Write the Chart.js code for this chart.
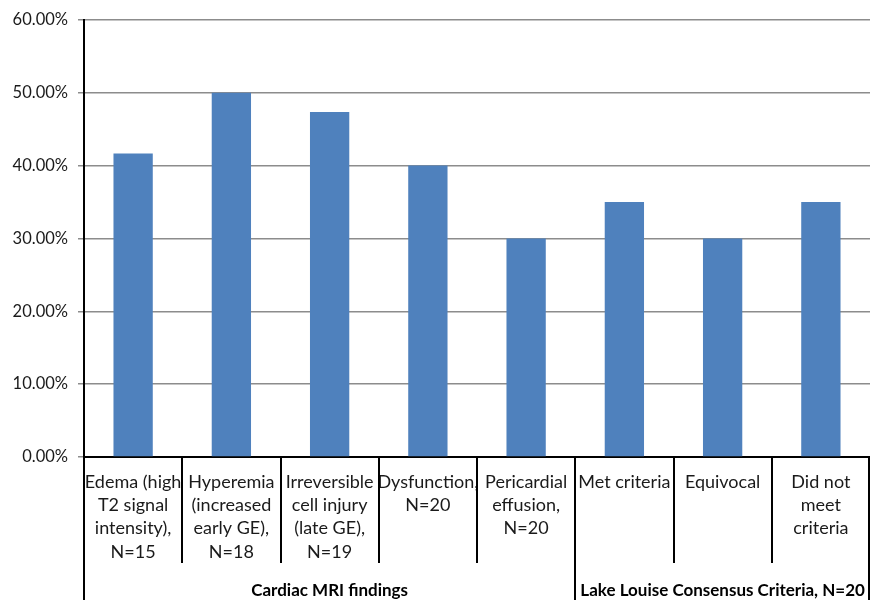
<!DOCTYPE html>
<html>
<head>
<meta charset="utf-8">
<script src="https://cdn.jsdelivr.net/npm/chart.js@4.4.1/dist/chart.umd.min.js"></script>
<style>
  html, body { margin: 0; padding: 0; background: #ffffff; }
  #wrap { width: 870px; height: 605px; }
</style>
</head>
<body>
<div id="wrap"><canvas id="chart" width="870" height="605"></canvas></div>
<script>
// Category labels (one array entry per text line)
const categories = [
  ['Edema (high', 'T2 signal', 'intensity),', 'N=15'],
  ['Hyperemia', '(increased', 'early GE),', 'N=18'],
  ['Irreversible', 'cell injury', '(late GE),', 'N=19'],
  ['Dysfunction,', 'N=20'],
  ['Pericardial', 'effusion,', 'N=20'],
  ['Met criteria'],
  ['Equivocal'],
  ['Did not', 'meet', 'criteria']
];

// Share of patients, in percent
const percentValues = [41.67, 50.0, 47.37, 40.0, 30.0, 35.0, 30.0, 35.0];

// Group headings under the category labels, and how many categories each spans
const groupLabels = ['Cardiac MRI findings', 'Lake Louise Consensus Criteria, N=20'];
const groupSizes = [5, 3];

// Y axis ticks
const yMin = 0;
const yMax = 60;
const yStep = 10;

const FONT = 'Lato, "Open Sans", "Liberation Sans", sans-serif';

// Draws the category separators, group separators and group headings
const groupAxisPlugin = {
  id: 'groupAxis',
  afterDraw(chart) {
    const ctx = chart.ctx;
    const xs = chart.scales.x;
    const area = chart.chartArea;
    const n = categories.length;
    const boundary = (i) => {
      if (i <= 0) return xs.left;
      if (i >= n) return xs.right;
      return (xs.getPixelForValue(i - 1) + xs.getPixelForValue(i)) / 2;
    };
    const groupEdges = [0];
    groupSizes.forEach(s => groupEdges.push(groupEdges[groupEdges.length - 1] + s));

    ctx.save();
    ctx.strokeStyle = '#000000';
    ctx.lineWidth = 2;
    for (let i = 0; i <= n; i++) {
      const x = Math.round(boundary(i)) - (i === n ? 1 : 0);
      const isGroupEdge = groupEdges.includes(i);
      ctx.beginPath();
      ctx.moveTo(x, area.bottom);
      ctx.lineTo(x, isGroupEdge ? area.bottom + 143 : area.bottom + 106);
      ctx.stroke();
    }

    ctx.fillStyle = '#000000';
    ctx.font = 'bold 17px ' + FONT;
    ctx.textAlign = 'center';
    ctx.textBaseline = 'middle';
    for (let g = 0; g < groupLabels.length; g++) {
      const x0 = boundary(groupEdges[g]);
      const x1 = boundary(groupEdges[g + 1]);
      ctx.fillText(groupLabels[g], (x0 + x1) / 2, area.bottom + 134);
    }
    ctx.restore();
  }
};

new Chart(document.getElementById('chart'), {
  type: 'bar',
  data: {
    labels: categories,
    datasets: [{
      data: percentValues,
      backgroundColor: '#4f81bd',
      borderWidth: 0,
      barPercentage: 0.4,
      categoryPercentage: 1.0
    }]
  },
  options: {
    responsive: false,
    animation: false,
    devicePixelRatio: 1,
    layout: { padding: { top: 16, right: 0, left: 0, bottom: 0 } },
    plugins: {
      legend: { display: false },
      tooltip: { enabled: false }
    },
    scales: {
      x: {
        grid: { display: false, drawTicks: false },
        border: { display: true, color: '#000000', width: 2 },
        ticks: {
          color: '#1a1a1a',
          font: { family: FONT, size: 18, lineHeight: 1.3 },
          padding: 13,
          maxRotation: 0,
          autoSkip: false
        },
        afterFit(scale) { scale.height = 148; }
      },
      y: {
        min: yMin,
        max: yMax,
        grid: {
          color: '#8c8c8c',
          lineWidth: 1.5,
          tickLength: 6,
          drawTicks: true
        },
        border: { display: true, color: '#000000', width: 2 },
        ticks: {
          stepSize: yStep,
          color: '#1a1a1a',
          font: { family: FONT, size: 16.5 },
          padding: 10,
          callback: (v) => v.toFixed(2) + '%'
        },
        afterFit(scale) { scale.width = 84; }
      }
    }
  },
  plugins: [groupAxisPlugin]
});
</script>
</body>
</html>
